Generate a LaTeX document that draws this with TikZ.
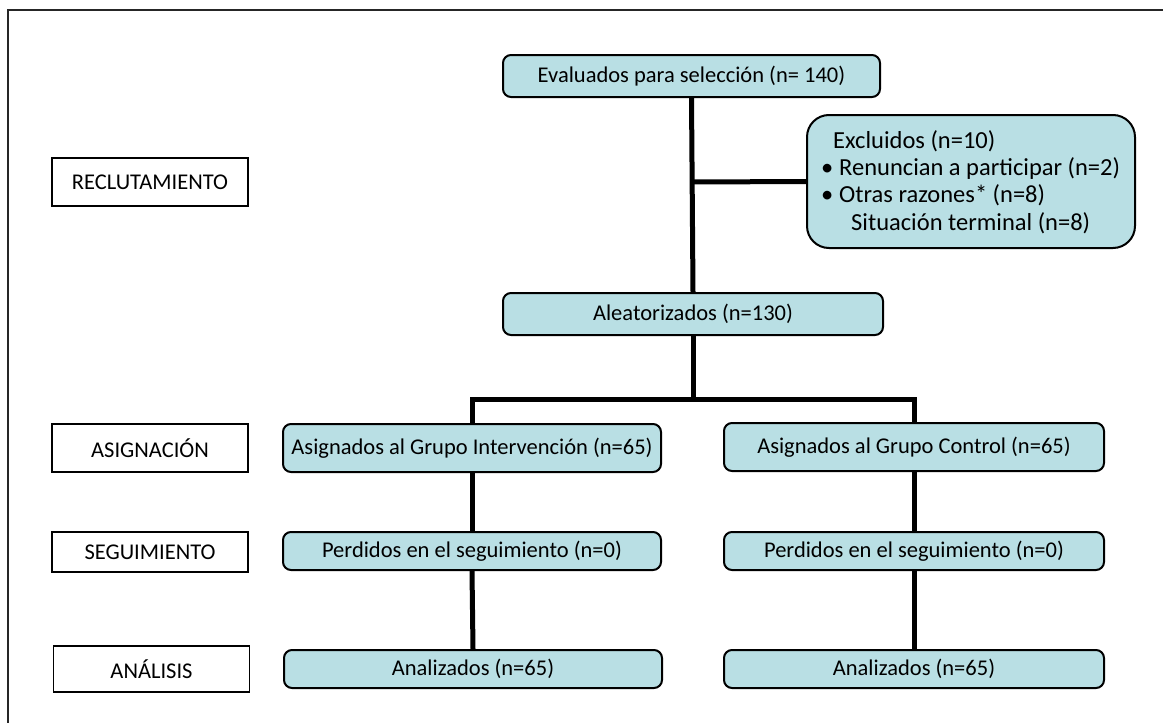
\documentclass[tikz,border=0pt]{standalone}
\usepackage{fontspec}
\setmainfont{Carlito}
\definecolor{boxfill}{RGB}{185,223,228}
\begin{document}
\begin{tikzpicture}[x=1pt,y=-1pt,
  every node/.style={font=\fontsize{22.5}{27.5}\selectfont, inner sep=0pt},
  flowbox/.style={draw=black, line width=2pt, fill=boxfill, rounded corners=8pt,
    minimum height=42pt, minimum width=378pt},
  stagebox/.style={draw=black, line width=1.8pt, fill=white,
    minimum width=196pt, minimum height=48pt},
  link/.style={line width=5pt, line join=miter}]
\useasboundingbox (0,0) rectangle (1163,723);
% outer frame (top and left edges)
\draw[line width=1.5pt, black!85] (8,723) -- (8,10) -- (1163,10);

% stage labels
\node[stagebox] (recl) at (150,182) {RECLUTAMIENTO};
\node[stagebox] (asig) at (150,448) {ASIGNACIÓN};
\node[stagebox, minimum height=40pt] (segu) at (150,552) {SEGUIMIENTO};
\node[stagebox, minimum height=46pt] (anal) at (151.5,669) {ANÁLISIS};

% junction points on the main trunk
\coordinate (exj) at (693,182);
\coordinate (split) at (693,399);

% flow boxes
\node[flowbox, minimum width=377pt] (eval) at (691.5,76) {Evaluados para selección (n= 140)};
\node[flowbox, minimum width=380pt] (alea) at (693,314) {Aleatorizados (n=130)};
\node[flowbox, minimum height=48pt] (gi) at (472,448) {Asignados al Grupo Intervención (n=65)};
\node[flowbox, minimum height=48pt, minimum width=380pt] (gc) at (914,447) {Asignados al Grupo Control (n=65)};
\node[flowbox, minimum height=38pt] (pi) at (472,551) {Perdidos en el seguimiento (n=0)};
\node[flowbox, minimum height=38pt, minimum width=380pt] (pc) at (914,551) {Perdidos en el seguimiento (n=0)};
\node[flowbox, minimum height=38pt] (ai) at (473,669) {Analizados (n=65)};
\node[flowbox, minimum height=38pt, minimum width=380pt] (ac) at (914,669) {Analizados (n=65)};

% exclusions box with its bulleted text
\node[draw=black, line width=2pt, fill=boxfill, rounded corners=22pt,
  minimum width=328pt, minimum height=133pt] (excl) at (971,181.5) {};
\node[anchor=west, align=left, font=\fontsize{24.5}{27.3}\selectfont] (excltxt) at (821,182)
  {\hspace*{12pt}Excluidos (n=10)\\
   \makebox[18pt][l]{•}Renuncian a participar (n=2)\\
   \makebox[18pt][l]{•}Otras razones* (n=8)\\
   \hspace*{30pt}Situación terminal (n=8)};

% connectors
\draw[link] (eval.south) -- (alea.north);
\draw[link] (exj) -- (excl.west);
\draw[link] (alea.south) -- (split);
\draw[link] (split) -| (gi.north);
\draw[link] (split) -| (gc.north);
\draw[link] (gi.south) -- (pi.north);
\draw[link] (gc.south) -- (pc.north);
\draw[link] (pi.south) -- (ai.north);
\draw[link] (pc.south) -- (ac.north);
\end{tikzpicture}
\end{document}
